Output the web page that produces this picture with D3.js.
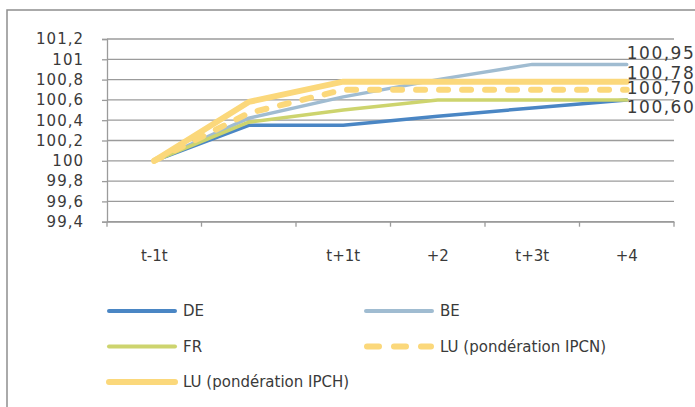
<!DOCTYPE html>
<html>
<head>
<meta charset="utf-8">
<script src="https://cdn.jsdelivr.net/npm/d3@7"></script>
<style>
  html, body { margin: 0; padding: 0; background: #fff; }
  svg { display: block; font-family: "DejaVu Sans", sans-serif; }
</style>
</head>
<body>
<svg id="chart" width="695" height="407"></svg>
<script>
// ---- data ----
const categories = ["t-1t", "", "t+1t", "+2", "t+3t", "+4"];
const seriesNames = ["DE", "BE", "FR", "LU (pondération IPCN)", "LU (pondération IPCH)"];
const DE      = [100, 100.35, 100.35, 100.44, 100.52, 100.60];
const BE      = [100, 100.42, 100.63, 100.80, 100.95, 100.95];
const FR      = [100, 100.38, 100.50, 100.60, 100.60, 100.60];
const LU_IPCN = [100, 100.47, 100.70, 100.70, 100.70, 100.70];
const LU_IPCH = [100, 100.58, 100.78, 100.78, 100.78, 100.78];
const yTicks  = [99.4, 99.6, 99.8, 100, 100.2, 100.4, 100.6, 100.8, 101, 101.2];
const labelledSeries = ["BE", "LU (pondération IPCH)", "LU (pondération IPCN)", "DE"];

// ---- styles / layout ----
const styles = {
  "DE": { color: "#4a86c4", width: 3.5, dash: null },
  "BE": { color: "#a0bcd1", width: 3.5, dash: null },
  "FR": { color: "#cdd46e", width: 3.5, dash: null },
  "LU (pondération IPCN)": { color: "#fbd87b", width: 6, dash: "9,14" },
  "LU (pondération IPCH)": { color: "#fbd87b", width: 6, dash: null }
};
const labelNudge = { "BE": -5, "LU (pondération IPCH)": -2.5, "LU (pondération IPCN)": 4.5, "DE": 13 };
const valuesOf = { "DE": DE, "BE": BE, "FR": FR, "LU (pondération IPCN)": LU_IPCN, "LU (pondération IPCH)": LU_IPCH };

const svg = d3.select("#chart");
const gridColor = "#9b9b9b";
const textColor = "#3a3a3a";

// outer border
svg.append("rect").attr("x", 7).attr("y", 10).attr("width", 720).attr("height", 420)
  .attr("fill", "#fff").attr("stroke", "#8e8e8e").attr("stroke-width", 1.5);

const x = d3.scaleBand().domain(d3.range(categories.length)).range([107, 674]).padding(0);
const y = d3.scaleLinear().domain([99.4, 101.2]).range([221.7, 39]);
const cx = i => x(i) + x.bandwidth() / 2;

const fmt = v => String(+v.toFixed(2)).replace(".", ",");

// gridlines
svg.append("g").selectAll("line").data(yTicks).join("line")
  .attr("x1", 107).attr("x2", 674)
  .attr("y1", d => y(d)).attr("y2", d => y(d))
  .attr("stroke", gridColor).attr("stroke-width", 1.3);

// y axis
const yAxis = svg.append("g").attr("transform", "translate(107,0)")
  .call(d3.axisLeft(y).tickValues(yTicks).tickSize(5).tickPadding(18).tickFormat(fmt));
yAxis.select(".domain").attr("stroke", gridColor).attr("stroke-width", 1.3);
yAxis.selectAll(".tick line").attr("stroke", gridColor).attr("stroke-width", 1.3);
yAxis.selectAll(".tick text").attr("fill", textColor).attr("font-size", 15)
  .attr("letter-spacing", 1).attr("font-family", "DejaVu Sans");

// x axis
const xAxis = svg.append("g").attr("transform", `translate(0,${y(99.4)})`)
  .call(d3.axisBottom(x).tickSize(0).tickFormat(i => categories[i]));
xAxis.select(".domain").attr("stroke", gridColor).attr("stroke-width", 1.3);
xAxis.selectAll(".tick text").attr("fill", textColor).attr("font-size", 15)
  .attr("font-family", "DejaVu Sans").attr("y", 39).attr("dy", 0);
// boundary tick marks
const bounds = d3.range(categories.length + 1).map(i => i < categories.length ? x(i) : 674);
svg.append("g").selectAll("line").data(bounds).join("line")
  .attr("x1", d => d).attr("x2", d => d)
  .attr("y1", y(99.4)).attr("y2", y(99.4) + 5)
  .attr("stroke", gridColor).attr("stroke-width", 1.3);

// lines
const line = d3.line().x((d, i) => cx(i)).y(d => y(d));
const gLines = svg.append("g");
seriesNames.forEach(name => {
  const s = styles[name];
  gLines.append("path").datum(valuesOf[name])
    .attr("d", line).attr("fill", "none")
    .attr("stroke", s.color).attr("stroke-width", s.width)
    .attr("stroke-linejoin", "round").attr("stroke-linecap", "round")
    .attr("stroke-dasharray", s.dash);
});

// data labels at last point
const last = categories.length - 1;
svg.append("g").selectAll("text").data(labelledSeries).join("text")
  .attr("x", cx(last))
  .attr("y", d => y(valuesOf[d][last]) + labelNudge[d])
  .attr("fill", textColor).attr("font-size", 17).attr("letter-spacing", 1.5)
  .text(d => valuesOf[d][last].toFixed(2).replace(".", ","));

// legend
const legendPos = [
  { x: 107, y: 311 }, { x: 364, y: 311 },
  { x: 107, y: 346.5 }, { x: 364, y: 346.5 },
  { x: 107, y: 382 }
];
const gLeg = svg.append("g");
seriesNames.forEach((name, i) => {
  const s = styles[name], p = legendPos[i];
  gLeg.append("line")
    .attr("x1", p.x + (s.dash ? 3 : 2)).attr("x2", p.x + 70 - (s.dash ? 3 : 2))
    .attr("y1", p.y).attr("y2", p.y)
    .attr("stroke", s.color).attr("stroke-width", s.dash ? 6 : (name.startsWith("LU") ? 6 : 4))
    .attr("stroke-linecap", "round")
    .attr("stroke-dasharray", s.dash ? "12,15" : null);
  gLeg.append("text").attr("x", p.x + 76).attr("y", p.y).attr("dy", "0.36em")
    .attr("fill", textColor).attr("font-size", 15).text(name);
});
</script>
</body>
</html>
